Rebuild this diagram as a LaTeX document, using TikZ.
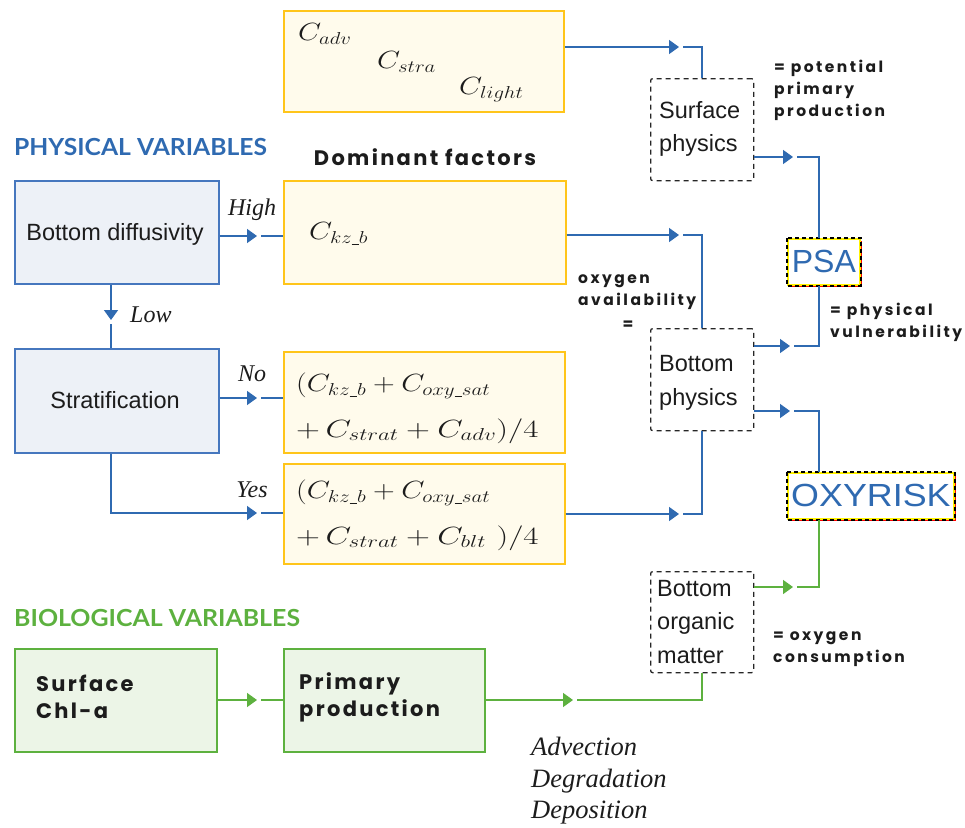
\documentclass[tikz,border=0pt]{standalone}
\usepackage{fontspec}
\usetikzlibrary{arrows.meta,calc}
\newfontfamily\arialf{Liberation Sans}
\newfontfamily\geof{Poppins}[LetterSpace=16]
\newfontfamily\geobig{Poppins}[LetterSpace=11]
\newfontfamily\headf{Lato}
\newfontfamily\serf{Liberation Serif}
\newcommand\usc{\rule[-1.6pt]{6pt}{1.1pt}}
\definecolor{blu}{HTML}{2F6AB1}
\definecolor{bbord}{HTML}{4677BE}
\definecolor{bfill}{HTML}{EDF1F7}
\definecolor{ybord}{HTML}{FFC51A}
\definecolor{yfill}{HTML}{FFFBEC}
\definecolor{grn}{HTML}{5DB13F}
\definecolor{gfill}{HTML}{ECF5E7}
\definecolor{ink}{HTML}{1C1C1C}
\begin{document}
\begin{tikzpicture}[x=1pt,y=-1pt,
  bl/.style={line width=1.6pt, draw=blu},
  gr/.style={line width=1.6pt, draw=grn},
  tipB/.style={bl, -{Triangle[length=10pt,width=14pt]}},
  tipG/.style={gr, -{Triangle[length=10pt,width=14pt]}},
  boxbase/.style={anchor=north west, inner sep=0pt, line width=1.6pt},
  ybox/.style={boxbase, draw=ybord, fill=yfill},
  bbox/.style={boxbase, draw=bbord, fill=bfill},
  gbox/.style={boxbase, draw=grn, fill=gfill},
  dbox/.style={boxbase, draw=black!85, line width=1.3pt, dash pattern=on 5pt off 4pt, rounded corners=2pt},
  rbox/.style={boxbase, draw=yellow, fill=white, line width=1.8pt},
  armath/.style={anchor=west, inner sep=0pt, text=ink, font=\fontsize{26}{30}\selectfont},
  arial/.style={inner sep=0pt, text=ink, align=left, font=\arialf\fontsize{23.5}{33.5}\selectfont},
  geo/.style={inner sep=0pt, text=ink, align=left, font=\geof\bfseries\fontsize{15.5}{22}\selectfont},
  geob/.style={inner sep=0pt, text=ink, align=left, font=\geobig\bfseries\fontsize{21}{27}\selectfont},
  itl/.style={inner sep=0pt, text=ink, font=\serf\itshape\fontsize{24}{30}\selectfont},
  head/.style={anchor=west, inner sep=0pt, font=\headf\bfseries\fontsize{23.5}{23.5}\selectfont},
  ]
\useasboundingbox (0,0) rectangle (965,827);
\coordinate (vx) at (819,0);
\coordinate (vl) at (111,0);

% ---------- boxes ----------
\node[ybox, minimum width=280pt, minimum height=101pt] (topY) at (283,10) {};
\node[ybox, minimum width=282pt, minimum height=103pt] (kzY) at (283,180) {};
\node[ybox, minimum width=281pt, minimum height=101pt] (noY) at (283,351) {};
\node[ybox, minimum width=281pt, minimum height=100pt] (yesY) at (283,463) {};
\node[bbox, minimum width=204pt, minimum height=103pt] (diffB) at (14,180) {};
\node[bbox, minimum width=204pt, minimum height=104pt] (stratB) at (14,348) {};
\node[gbox, minimum width=202pt, minimum height=103pt] (chlG) at (14,648) {};
\node[gbox, minimum width=201pt, minimum height=103pt] (ppG) at (283,648) {};
\node[dbox, minimum width=103pt, minimum height=102pt] (surfD) at (650,78) {};
\node[dbox, minimum width=103pt, minimum height=102pt] (botD) at (650,328) {};
\node[dbox, minimum width=103pt, minimum height=101pt] (orgD) at (650,571) {};

% PSA / OXYRISK
\draw[red, line width=2pt] (861,241) -- (861,286) -- (790,286);
\node[rbox, minimum width=72pt, minimum height=46pt] (psa) at (787,238) {};
\draw[black, line width=1.4pt, dash pattern=on 4pt off 3pt] (psa.north west) rectangle (psa.south east);
\draw[red, line width=2pt] (955,475) -- (955,520) -- (790,520);
\node[rbox, minimum width=166pt, minimum height=46pt] (oxy) at (787,472) {};
\draw[black, line width=1.4pt, dash pattern=on 4pt off 3pt] (oxy.north west) rectangle (oxy.south east);
\node[inner sep=0pt, text=blu, font=\arialf\fontsize{32}{32}\selectfont] (psat) at (psa.center) {PSA};
\node[inner sep=0pt, text=blu, font=\arialf\fontsize{32}{32}\selectfont] (oxyt) at (oxy.center) {\scalebox{1.12}[1]{OXYRISK}};

% ---------- texts ----------
\node[head, text=blu] (phys) at (14,147) {\scalebox{1.05}[1]{PHYSICAL VARIABLES}};
\node[head, text=grn] (biol) at (14,618) {\scalebox{1.06}[1]{BIOLOGICAL VARIABLES}};
\node[inner sep=0pt, text=ink, font=\geobig\bfseries\fontsize{21}{21}\selectfont] (domf) at (425,157) {Dominant factors};

\node[arial] (diffT) at (115,234) {Bottom diffusivity};
\node[arial] (stratT) at (115,400) {Stratification};
\node[arial, anchor=west] (surfT) at (659,129) {Surface\\physics};
\node[arial, anchor=west] (botT) at (659,383) {Bottom\\physics};
\node[arial, anchor=west] (orgT) at (657,622) {Bottom\\organic\\matter};

\node[geob, anchor=west] (chlT) at (36,697) {Surface\\Chl-a};
\node[geob, anchor=west] (ppT) at (299,697) {Primary\\production};

\node[geo, anchor=west] (ppNote) at (774,90) {= potential\\primary\\production};
\node[geo, anchor=west] (oxNote) at (578,292) {oxygen\\availability};
\node[geo] (oxEq) at (628,325) {=};
\node[geo, anchor=west] (pvNote) at (830,322) {= physical\\vulnerability};
\node[geo, anchor=west] (ocNote) at (773,649) {= oxygen\\consumption};

\node[itl] (highT) at (252,210) {High};
\node[itl, anchor=west] (lowT) at (130,315) {Low};
\node[itl] (noT) at (252,374) {No};
\node[itl] (yesT) at (252,490) {Yes};

\node[inner sep=0pt, text=ink, align=left, anchor=west, font=\serf\itshape\fontsize{26.5}{31.5}\selectfont] (adv) at (531,781) {Advection\\Degradation\\Deposition};

% math
\node[armath] (cadv) at (298,34) {\scalebox{1.2}[1]{$C_{adv}$}};
\node[armath] (cstra) at (377,62) {\scalebox{1.2}[1]{$C_{stra}$}};
\node[armath] (clight) at (459,90) {\scalebox{1.2}[1]{$C_{light}$}};
\node[armath] (ckzb) at (309,234) {\scalebox{1.2}[1]{$C_{kz\usc b}$}};
\node[armath] (no1) at (296,386) {\scalebox{1.21}[1]{$(C_{kz\usc b}+C_{oxy\usc sat}$}};
\node[armath] (no2) at (296,431) {\scalebox{1.33}[1]{$+\,C_{strat}+C_{adv})/4$}};
\node[armath] (yes1) at (296,493) {\scalebox{1.21}[1]{$(C_{kz\usc b}+C_{oxy\usc sat}$}};
\node[armath] (yes2) at (296,538) {\scalebox{1.33}[1]{$+\,C_{strat}+C_{blt}\ )/4$}};

% ---------- connectors ----------
\coordinate (t1) at (679,47);
\draw[tipB] (topY.east |- t1) -- (t1);
\draw[bl] ($(t1)+(4,0)$) -| (surfD.north);

\coordinate (t2) at (793,157);
\draw[tipB] (surfD.east |- t2) -- (t2);
\draw[bl] ($(t2)+(4,0)$) -| (psa.north -| vx);

\coordinate (t3) at (679,235);
\draw[tipB] (kzY.east |- t3) -- (t3);
\draw[bl] ($(t3)+(4,0)$) -| (botD.north);

\coordinate (t4) at (790,346);
\draw[tipB] (botD.east |- t4) -- (t4);
\draw[bl] ($(t4)+(4,0)$) -| (psa.south -| vx);

\coordinate (t5) at (790,411);
\draw[tipB] (botD.east |- t5) -- (t5);
\draw[bl] ($(t5)+(4,0)$) -| (oxy.north -| vx);

\coordinate (t6) at (679,514);
\draw[tipB] (yesY.east |- t6) -- (t6);
\draw[bl] ($(t6)+(4,0)$) -| (botD.south);

\coordinate (t7) at (793,587);
\draw[tipG] (orgD.east |- t7) -- (t7);
\draw[gr] ($(t7)+(4,0)$) -| (oxy.south -| vx);

\coordinate (t8) at (573,700);
\draw[tipG] (ppG.east |- t8) -- (t8);
\draw[gr] ($(t8)+(4,0)$) -| (orgD.south);

\coordinate (t9) at (257,700);
\draw[tipG] (chlG.east |- t9) -- (t9);
\draw[gr] ($(t9)+(4,0)$) -- (ppG.west |- t9);

\coordinate (t10) at (257,236);
\draw[tipB] (diffB.east |- t10) -- (t10);
\draw[bl] ($(t10)+(4,0)$) -- (kzY.west |- t10);

\coordinate (t11) at (111,320);
\draw[tipB] (diffB.south -| t11) -- (t11);
\draw[bl] ($(t11)+(0,4)$) -- (stratB.north -| t11);

\coordinate (t12) at (257,398);
\draw[tipB] (stratB.east |- t12) -- (t12);
\draw[bl] ($(t12)+(4,0)$) -- (noY.west |- t12);

\coordinate (t13) at (257,513);
\draw[tipB] (stratB.south -| vl) |- (t13);
\draw[bl] ($(t13)+(4,0)$) -- (yesY.west |- t13);
\end{tikzpicture}
\end{document}
